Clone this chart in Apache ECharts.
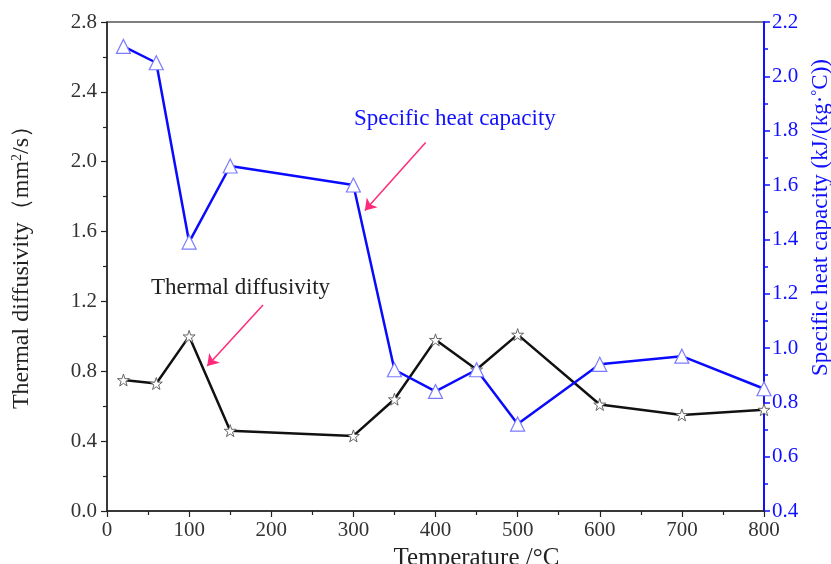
<!DOCTYPE html>
<html><head><meta charset="utf-8">
<script src="https://cdn.jsdelivr.net/npm/echarts@6/dist/echarts.min.js"></script>
<style>html,body{margin:0;padding:0;background:#fff}#c{width:831px;height:564px}</style>
</head><body><div id="c"></div>
<script>
const temperatures = [20, 60, 100, 150, 300, 350, 400, 450, 500, 600, 700, 800];
const thermalDiffusivity = [0.75, 0.73, 1.00, 0.46, 0.43, 0.64, 0.98, 0.81, 1.01, 0.61, 0.55, 0.58];
const specificHeat = [2.11, 2.05, 1.39, 1.67, 1.60, 0.92, 0.84, 0.92, 0.72, 0.94, 0.97, 0.85];
const xTicks = [0, 100, 200, 300, 400, 500, 600, 700, 800];
const leftTicks = [0.0, 0.4, 0.8, 1.2, 1.6, 2.0, 2.4, 2.8];
const rightTicks = [0.4, 0.6, 0.8, 1.0, 1.2, 1.4, 1.6, 1.8, 2.0, 2.2];

const STAR = 'path://M50,0 L61.8,35.1 L97.6,34.5 L68.8,56.4 L79.4,90.5 L50,70 L20.6,90.5 L31.2,56.4 L2.4,34.5 L38.2,35.1 Z';
const F = '"Liberation Serif", "Times New Roman", serif';

const chart = echarts.init(document.getElementById('c'));
chart.setOption({
  animation: false,
  backgroundColor: '#fff',
  grid: { left: 107, right: 67, top: 22, bottom: 53, containLabel: false, outerBoundsMode: 'none', show: true, borderColor: '#555', borderWidth: 1.5, backgroundColor: 'transparent' },
  xAxis: {
    type: 'value', min: xTicks[0], max: xTicks[xTicks.length - 1], interval: 100,
    name: 'Temperature /°C', nameLocation: 'middle', nameGap: 29,
    nameTextStyle: { fontFamily: F, fontSize: 25, color: '#222', padding: [0, 0, 0, 82] },
    axisLine: { show: true, lineStyle: { color: '#222', width: 1.5 } },
    axisTick: { show: true, inside: false, length: 6, lineStyle: { color: '#222', width: 1.2 } },
    minorTick: { show: true, splitNumber: 2, length: 4, lineStyle: { color: '#222', width: 1.2 } },
    axisLabel: { fontFamily: F, fontSize: 21, color: '#333', margin: 9 },
    splitLine: { show: false }
  },
  yAxis: [
    {
      type: 'value', min: leftTicks[0], max: leftTicks[leftTicks.length - 1], interval: 0.4, position: 'left',
      name: '{a|Thermal diffusivity（mm}{s|2}{a|/s）}', nameLocation: 'middle', nameGap: 73, nameRotate: 90,
      nameTextStyle: { padding: [0, 0, 0, 10], rich: { a: { fontFamily: F, fontSize: 24, color: '#222' }, s: { fontFamily: F, fontSize: 14, color: '#222', verticalAlign: 'top', padding: [0, 0, 9, 0] } } },
      axisLine: { show: true, lineStyle: { color: '#222', width: 1.5 } },
      axisTick: { show: true, inside: false, length: 6, lineStyle: { color: '#222', width: 1.2 } },
      minorTick: { show: true, splitNumber: 2, length: 4, lineStyle: { color: '#222', width: 1.2 } },
      axisLabel: { fontFamily: F, fontSize: 21, color: '#333', margin: 10, formatter: v => v.toFixed(1) },
      splitLine: { show: false }
    },
    {
      type: 'value', min: rightTicks[0], max: rightTicks[rightTicks.length - 1], interval: 0.2, position: 'right',
      name: '{a|Specific heat capacity (kJ/(kg·}{s|°}{a|C))}', nameLocation: 'middle', nameGap: 41, nameRotate: 90,
      nameTextStyle: { padding: [0, 0, 0, 98], rich: { a: { fontFamily: F, fontSize: 23, color: '#1010ff' }, s: { fontFamily: F, fontSize: 15, color: '#1010ff', verticalAlign: 'top', padding: [0, 0, 9, 0] } } },
      axisLine: { show: true, lineStyle: { color: '#1010ff', width: 2 } },
      axisTick: { show: true, inside: false, length: 6, lineStyle: { color: '#1010ff', width: 1.5 } },
      minorTick: { show: true, splitNumber: 2, length: 4, lineStyle: { color: '#1010ff', width: 1.5 } },
      axisLabel: { fontFamily: F, fontSize: 21, color: '#1010ff', margin: 8, formatter: v => v.toFixed(1) },
      splitLine: { show: false }
    }
  ],
  series: [
    {
      name: 'Thermal diffusivity', type: 'line', yAxisIndex: 0,
      data: temperatures.map((t, i) => [t, thermalDiffusivity[i]]),
      symbol: STAR, symbolSize: 12, showAllSymbol: true,
      lineStyle: { color: '#111', width: 2.5 },
      itemStyle: { color: '#fff', borderColor: '#666', borderWidth: 1 },
      z: 3,
      markLine: {
        silent: true, symbol: ['none', 'arrow'], symbolSize: 11,
        lineStyle: { color: '#ff2a7a', width: 1.5, type: 'solid' }, label: { show: false },
        data: [[{ coord: [190, 1.18] }, { coord: [122, 0.83] }], [{ coord: [388, 2.11] }, { coord: [314, 1.72] }]]
      }
    },
    {
      name: 'Specific heat capacity', type: 'line', yAxisIndex: 1,
      data: temperatures.map((t, i) => [t, specificHeat[i]]),
      symbol: 'triangle', symbolSize: 14, showAllSymbol: true,
      lineStyle: { color: '#0a0aff', width: 2.5 },
      itemStyle: { color: '#fff', borderColor: '#7a7aff', borderWidth: 1.2 },
      z: 4
    }
  ],
  graphic: [
    { type: 'text', left: 354, top: 107, style: { text: 'Specific heat capacity', font: '23px ' + F, fill: '#1010ff' } },
    { type: 'text', left: 151, top: 276, style: { text: 'Thermal diffusivity', font: '23px ' + F, fill: '#222' } }
  ]
});
</script></body></html>
